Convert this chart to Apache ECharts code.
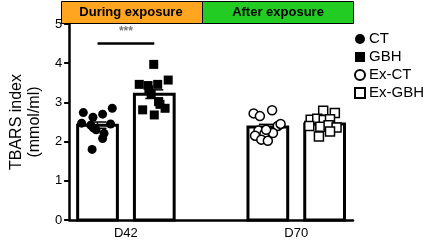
<!DOCTYPE html>
<html><head><meta charset="utf-8">
<script src="https://cdn.jsdelivr.net/npm/echarts@6/dist/echarts.min.js"></script>
<style>html,body{margin:0;padding:0;background:#fff}#c{width:429px;height:243px}</style>
</head><body><div id="c"></div>
<script>
// ---- data ----
var groupNames = ['CT', 'GBH', 'Ex-CT', 'Ex-GBH'];
var groupX = [1, 3, 7, 9];            // positions on the x scale
var timeLabels = {2: 'D42', 8: 'D70'};
var means = [2.42, 3.21, 2.37, 2.45];
var sems = [0.08, 0.11, 0.07, 0.06];
var ctVals   = [2.74, 2.62, 2.70, 2.85, 2.47, 2.42, 2.30, 2.21, 2.45, 2.08, 1.80, 2.35];
var ctJit    = [-0.50, -0.16, 0.18, 0.52, -0.56, -0.24, -0.05, 0.23, 0.46, 0.18, -0.19, -0.15];
var gbhVals  = [3.97, 3.46, 3.43, 3.46, 3.57, 3.32, 3.21, 3.02, 2.81, 2.68, 2.85, 2.95];
var gbhJit   = [-0.02, -0.53, -0.22, 0.12, 0.49, -0.19, -0.11, 0.15, -0.41, 0, 0.38, 0.2];
var exCtVals = [2.72, 2.65, 2.80, 2.40, 2.45, 2.28, 2.20, 2.15, 2.05, 2.02, 2.22, 2.30];
var exCtJit  = [-0.50, -0.28, 0.15, 0.35, 0.45, -0.33, -0.12, -0.45, -0.23, 0, 0.18, -0.06];
var exGbhVals= [2.79, 2.73, 2.56, 2.58, 2.55, 2.57, 2.40, 2.38, 2.42, 2.36, 2.13, 2.26];
var exGbhJit = [-0.05, 0.36, -0.49, -0.26, -0.03, 0.19, -0.54, -0.15, 0.14, 0.42, -0.2, 0.19];
var sigLevel = 4.5;
var sigText = '***';
var yTicks = [0, 1, 2, 3, 4, 5];

var dotVals = [ctVals, gbhVals, exCtVals, exGbhVals];
var dotJit = [ctJit, gbhJit, exCtJit, exGbhJit];
var symbols = ['circle', 'rect', 'circle', 'rect'];
var fills = ['#000', '#000', '#fff', '#fff'];
var sizes = [9, 9, 9, 9];

var chart = echarts.init(document.getElementById('c'), null, {renderer: 'canvas'});

var barData = groupX.map(function (x, i) { return [x, means[i], sems[i]]; });
var BAR_W = 1.4;

var series = [];
series.push({
  type: 'custom', name: 'bars', z: 1, silent: true,
  data: barData,
  renderItem: function (params, api) {
    var x = api.value(0), m = api.value(1), s = api.value(2);
    var p0 = api.coord([x - BAR_W / 2, 0]);
    var p1 = api.coord([x + BAR_W / 2, m]);
    var ch = [];
    ch.push({type: 'rect', shape: {x: p0[0], y: p1[1], width: p1[0] - p0[0], height: p0[1] - p1[1]},
      style: {fill: '#fff', stroke: '#000', lineWidth: 3}});
    var c = api.coord([x, m]);
    var top = api.coord([x, m + s]), bot = api.coord([x, m - s]);
    var cw = 9;
    ch.push({type: 'line', shape: {x1: c[0], y1: top[1], x2: c[0], y2: bot[1]}, style: {stroke: '#000', lineWidth: 1.5}, z2: 20});
    ch.push({type: 'line', shape: {x1: c[0] - cw, y1: top[1], x2: c[0] + cw, y2: top[1]}, style: {stroke: '#000', lineWidth: 1.5}, z2: 20});
    ch.push({type: 'line', shape: {x1: c[0] - cw, y1: bot[1], x2: c[0] + cw, y2: bot[1]}, style: {stroke: '#000', lineWidth: 1.5}, z2: 20});
    return {type: 'group', children: ch};
  }
});

for (var g = 0; g < 4; g++) {
  series.push({
    type: 'scatter', name: groupNames[g], z: 5,
    symbol: symbols[g], symbolSize: sizes[g],
    itemStyle: {color: fills[g], borderColor: '#000', borderWidth: fills[g] === '#fff' ? 1.5 : 0, opacity: 1},
    data: dotVals[g].map(function (v, i) { return [groupX[g] + dotJit[g][i], v]; })
  });
}

series.push({
  type: 'custom', name: 'sig', z: 6, silent: true,
  data: [[groupX[0], groupX[1], sigLevel]],
  renderItem: function (params, api) {
    var a = api.coord([api.value(0), api.value(2)]);
    var b = api.coord([api.value(1), api.value(2)]);
    return {type: 'group', children: [
      {type: 'line', shape: {x1: a[0], y1: a[1], x2: b[0], y2: b[1]}, style: {stroke: '#000', lineWidth: 2.5}},
      {type: 'text', style: {text: sigText, x: (a[0] + b[0]) / 2, y: a[1] - 6, align: 'center', verticalAlign: 'bottom',
        fill: '#777', font: 'bold 12px "Liberation Sans", Arial'}}
    ]};
  }
});

var option = {
  animation: false,
  grid: {left: 59, right: 76, top: 24, bottom: 23, containLabel: false},
  legend: {
    orient: 'vertical', left: 354, top: 31, padding: 0, itemGap: 2,
    itemWidth: 10, itemHeight: 10,
    data: [
      {name: 'CT', icon: 'circle'}, {name: 'GBH', icon: 'rect'},
      {name: 'Ex-CT', icon: 'circle'}, {name: 'Ex-GBH', icon: 'rect'}
    ],
    textStyle: {fontSize: 15, color: '#000', fontFamily: '"Liberation Sans", Arial', padding: [0, 0, 0, -1], lineHeight: 16}
  },
  xAxis: {
    type: 'value', min: 0, max: 10, interval: 1,
    splitLine: {show: false}, axisTick: {show: false},
    axisLine: {show: true, onZero: false, lineStyle: {color: '#000', width: 2.5}},
    axisLabel: {
      margin: 7, color: '#000', fontSize: 13, fontFamily: '"Liberation Sans", Arial',
      formatter: function (v) { return timeLabels[v] || ''; }
    }
  },
  yAxis: {
    type: 'value', min: yTicks[0], max: yTicks[yTicks.length - 1], interval: 1,
    name: 'TBARS index\n(mmol/ml)', nameLocation: 'middle', nameGap: 20, nameRotate: 90,
    nameTextStyle: {fontSize: 16, color: '#000', fontFamily: '"Liberation Sans", Arial', lineHeight: 18},
    splitLine: {show: false},
    axisLine: {show: true, lineStyle: {color: '#000', width: 2.5}},
    axisTick: {show: true, length: 5, lineStyle: {color: '#000', width: 2}},
    axisLabel: {margin: 7, color: '#000', fontSize: 13, fontFamily: '"Liberation Sans", Arial'}
  },
  graphic: [
    {type: 'rect', left: 61, top: 1, shape: {width: 141, height: 22}, style: {fill: '#FFA51F', stroke: '#000', lineWidth: 1}},
    {type: 'rect', left: 202, top: 1, shape: {width: 151, height: 22}, style: {fill: '#22CC22', stroke: '#000', lineWidth: 1}},
    {type: 'text', x: 131, y: 12, style: {text: 'During exposure', align: 'center', verticalAlign: 'middle', fill: '#000', font: 'bold 13px "Liberation Sans", Arial'}},
    {type: 'text', x: 278, y: 12, style: {text: 'After exposure', align: 'center', verticalAlign: 'middle', fill: '#000', font: 'bold 13px "Liberation Sans", Arial'}}
  ],
  series: series
};
chart.setOption(option);
</script></body></html>
